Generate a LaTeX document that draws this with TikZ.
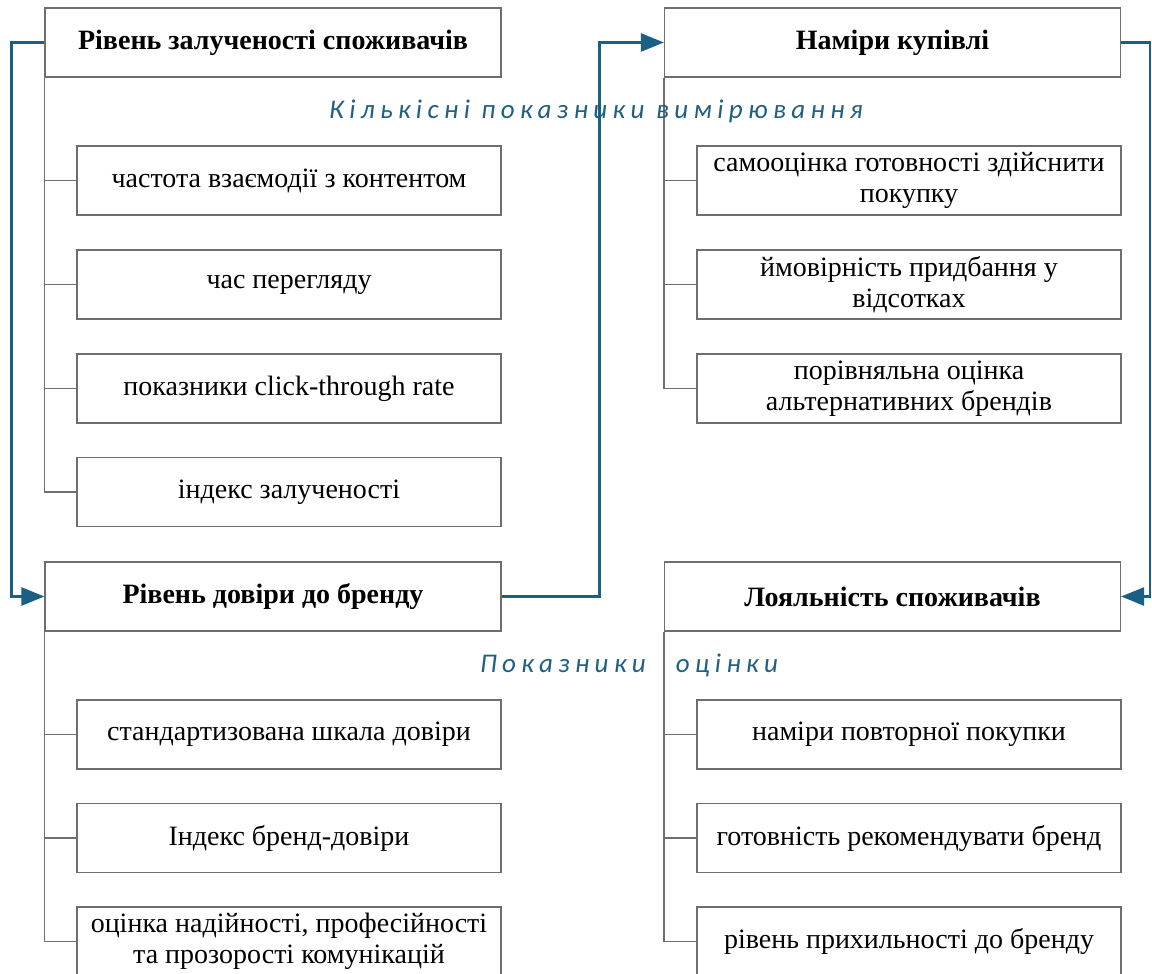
\documentclass[tikz,border=0pt]{standalone}
\usepackage{fontspec}
\setmainfont{Liberation Serif}
\newfontfamily\lblfont[LetterSpace=20]{Carlito}
\usetikzlibrary{arrows.meta}
\definecolor{conn}{HTML}{1A5F84}
\definecolor{lbl}{HTML}{1F5F80}
\definecolor{bord}{HTML}{6E6E6E}
\tikzset{
  hbox/.style={draw=bord, line width=1.2pt, minimum width=456pt, minimum height=69pt, inner sep=0pt, align=center, font=\fontsize{28}{31}\selectfont\bfseries},
  cbox/.style={draw=bord, line width=1.2pt, minimum width=424pt, minimum height=69pt, inner sep=0pt, align=center, font=\fontsize{28}{31}\selectfont},
  trunk/.style={draw=bord, line width=1.2pt},
  link/.style={draw=conn, line width=2.5pt, -{Triangle[length=23pt,width=18pt]}},
  lab/.style={text=lbl, font=\fontsize{27}{30}\selectfont\lblfont\itshape, inner sep=0pt}
}
\begin{document}
\begin{tikzpicture}[x=1pt,y=-1pt]
\useasboundingbox (0,0) rectangle (1152,974);
\clip (0,0) rectangle (1152,974);
% left top
\node[hbox] (h1) at (273,42.5) {Рівень залученості споживачів};
\node[cbox] (c11) at (289,180.5) {частота взаємодії з контентом};
\node[cbox] (c12) at (289,284.5) {час перегляду};
\node[cbox] (c13) at (289,388.5) {показники click-through rate};
\node[cbox] (c14) at (289,492) {індекс залученості};
% left bottom
\node[hbox] (h2) at (273,596.5) {Рівень довіри до бренду};
\node[cbox] (c21) at (289,734.5) {стандартизована шкала довіри};
\node[cbox] (c22) at (289,838) {Індекс бренд-довіри};
\node[cbox] (c23) at (289,941.5) {оцінка надійності, професійності\\та прозорості комунікацій};
% right top
\node[hbox] (h3) at (892.5,42.5) {Наміри купівлі};
\node[cbox] (c31) at (909,180.5) {самооцінка готовності здійснити\\покупку};
\node[cbox] (c32) at (909,284.5) {ймовірність придбання у\\відсотках};
\node[cbox] (c33) at (909,388.5) {порівняльна оцінка\\альтернативних брендів};
% right bottom
\node[hbox] (h4) at (892.5,596.5) {Лояльність споживачів};
\node[cbox] (c41) at (909,734.5) {наміри повторної покупки};
\node[cbox] (c42) at (909,838) {готовність рекомендувати бренд};
\node[cbox] (c43) at (909,941.5) {рівень прихильності до бренду};
% trunks
\draw[trunk] (h1.south west) |- (c14.west);
\foreach \c in {c11,c12,c13} \draw[trunk] (h1.south west |- \c.west) -- (\c.west);
\draw[trunk] (h2.south west) |- (c23.west);
\foreach \c in {c21,c22} \draw[trunk] (h2.south west |- \c.west) -- (\c.west);
\draw[trunk] (h3.south west) |- (c33.west);
\foreach \c in {c31,c32} \draw[trunk] (h3.south west |- \c.west) -- (\c.west);
\draw[trunk] (h4.south west) |- (c43.west);
\foreach \c in {c41,c42} \draw[trunk] (h4.south west |- \c.west) -- (\c.west);
% labels
\node[lab] (l1) at (596,111) {Кількісні показники вимірювання};
\node[lab] (l2) at (629,665) {Показники\hspace{30pt}оцінки};
% connectors
\draw[link] (h1.west) -- ++(-33,0) |- (h2.west);
\draw[link] (h2.east) -- ++(98,0) |- (h3.west);
\draw[link] (h3.east) -- ++(29,0) |- (h4.east);
\end{tikzpicture}
\end{document}
